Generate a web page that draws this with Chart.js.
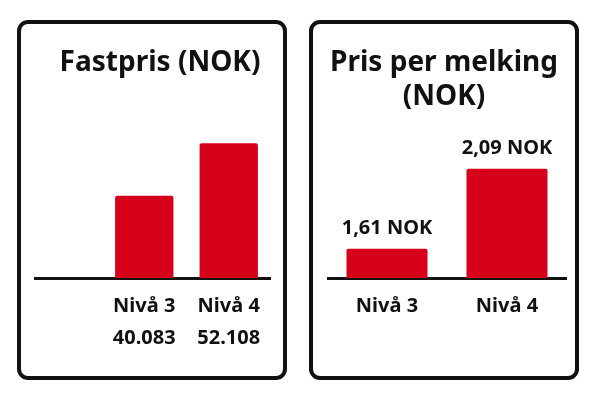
<!DOCTYPE html>
<html lang="no">
<head>
    <meta charset="UTF-8">
    <title>Fastpris og pris per melking</title>
    <script src="https://cdn.jsdelivr.net/npm/chart.js"></script>
    <style>
        body {
            margin: 0;
            width: 593px;
            height: 393px;
            background: #ffffff;
            font-family: 'Noto Sans', sans-serif;
            position: relative;
            overflow: hidden;
        }
        .panel {
            position: absolute;
            top: 20px;
            width: 262px;
            height: 352px;
            border: 4px solid #111111;
            border-radius: 11px;
        }
        #panelLeft { left: 17px; }
        #panelRight { left: 309px; }
        .panel h2 {
            position: absolute;
            top: 19px;
            margin: 0;
            transform: translateX(-50%);
            white-space: nowrap;
            text-align: center;
            font-size: 28px;
            font-weight: 700;
            line-height: 34px;
            color: #111111;
        }
        #panelLeft h2 { left: 139px; }
        #panelRight h2 { left: 131px; }
        canvas {
            position: absolute;
            left: 0;
            top: 0;
        }
    </style>
</head>
<body>
    <div class="panel" id="panelLeft">
        <canvas id="fastprisChart" width="262" height="352"></canvas>
        <h2>Fastpris (NOK)</h2>
    </div>
    <div class="panel" id="panelRight">
        <canvas id="melkingChart" width="262" height="352"></canvas>
        <h2>Pris per melking<br>(NOK)</h2>
    </div>

    <script>
        // Data lest av bildet
        const categories = ['Nivå 3', 'Nivå 4'];
        const fastprisValues = [40083, 52108];
        const fastprisLabels = ['40.083', '52.108'];
        const melkingValues = [1.61, 2.09];
        const melkingLabels = ['1,61 NOK', '2,09 NOK'];

        const red = '#d7001a';
        const ink = '#111111';
        const fontFamily = "'Noto Sans', sans-serif";

        // Tekst over søylene
        const valueLabelPlugin = {
            id: 'valueLabels',
            afterDatasetsDraw(chart, args, opts) {
                if (!opts.labels) return;
                const ctx = chart.ctx;
                ctx.save();
                ctx.font = '700 20px ' + fontFamily;
                ctx.fillStyle = ink;
                ctx.textAlign = 'center';
                ctx.textBaseline = 'middle';
                chart.getDatasetMeta(0).data.forEach((bar, i) => {
                    ctx.fillText(opts.labels[i], bar.x, bar.y - opts.offset);
                });
                ctx.restore();
            }
        };

        function makeChart(id, cfg) {
            return new Chart(document.getElementById(id), {
                type: 'bar',
                data: {
                    labels: cfg.labels,
                    datasets: [{
                        data: cfg.values,
                        backgroundColor: red,
                        borderRadius: { topLeft: 2, topRight: 2 },
                        borderSkipped: 'bottom',
                        categoryPercentage: 1,
                        barPercentage: cfg.barPct
                    }]
                },
                options: {
                    responsive: false,
                    animation: false,
                    layout: { padding: cfg.padding },
                    scales: {
                        x: {
                            grid: { display: false, drawTicks: false },
                            border: { display: false },
                            ticks: {
                                color: ink,
                                padding: 12,
                                font: { family: fontFamily, size: 20, weight: '700', lineHeight: 1.6 }
                            }
                        },
                        y: {
                            min: cfg.min,
                            max: cfg.max,
                            beginAtZero: false,
                            z: 1,
                            border: { display: false },
                            ticks: { display: false },
                            grid: {
                                // bare grunnlinjen vises
                                color: ctx => ctx.index === 0 ? ink : 'rgba(0,0,0,0)',
                                lineWidth: 3,
                                drawTicks: cfg.extend > 0,
                                tickLength: cfg.extend
                            }
                        }
                    },
                    plugins: {
                        legend: { display: false },
                        tooltip: { enabled: false },
                        valueLabels: { labels: cfg.valueLabels, offset: 21 }
                    }
                },
                plugins: [valueLabelPlugin]
            });
        }

        makeChart('fastprisChart', {
            labels: categories.map((c, i) => [c, fastprisLabels[i]]),
            values: fastprisValues,
            min: 21200,
            max: 60000,
            barPct: 0.69,
            extend: 68,
            padding: { left: 13, right: 12, top: 85, bottom: 10 }
        });

        makeChart('melkingChart', {
            labels: categories,
            values: melkingValues,
            valueLabels: melkingLabels,
            min: 1.435,
            max: 2.299,
            barPct: 0.675,
            extend: 0,
            padding: { left: 14, right: 8, top: 110, bottom: 42 }
        });
    </script>
</body>
</html>
